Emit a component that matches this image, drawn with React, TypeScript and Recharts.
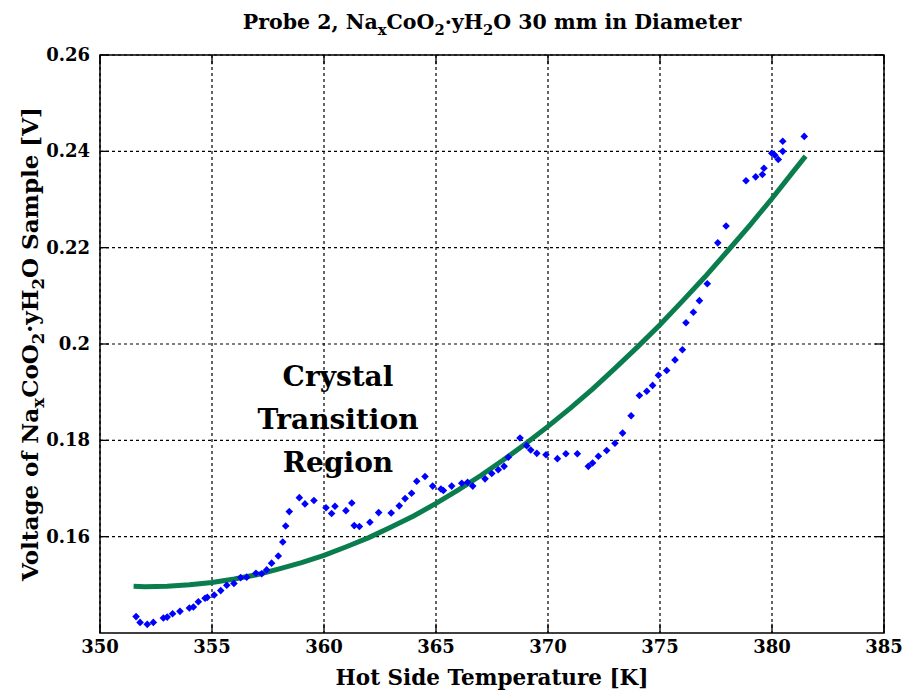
import React from "react";
import {
  ComposedChart,
  Line,
  Scatter,
  XAxis,
  YAxis,
  CartesianGrid,
  ReferenceArea,
  ReferenceLine,
} from "recharts";

const xTicks = [350, 355, 360, 365, 370, 375, 380, 385];
const yTicks = [0.16, 0.18, 0.2, 0.22, 0.24, 0.26];
const xDomain: [number, number] = [350, 385];
const yDomain: [number, number] = [0.14, 0.26];

const measuredTemp = [
  351.61, 351.79, 352.11, 352.38, 352.83, 353.0, 353.24, 353.57, 353.99, 354.17,
  354.39, 354.69, 354.79, 355.1, 355.39, 355.66, 355.98, 356.28, 356.55, 356.96,
  357.22, 357.44, 357.66, 357.96, 358.16, 358.29, 358.45, 358.9, 359.15, 359.55,
  360.09, 360.34, 360.49, 360.98, 361.24, 361.35, 361.58, 362.05, 362.44, 363.0,
  363.36, 363.62, 363.91, 364.14, 364.51, 364.85, 365.22, 365.33, 365.7, 366.15,
  366.41, 366.64, 367.19, 367.49, 367.78, 368.04, 368.23, 368.75, 369.05, 369.23,
  369.5, 369.91, 370.42, 370.8, 371.31, 371.8, 371.99, 372.25, 372.62, 372.99,
  373.33, 373.71, 374.08, 374.41, 374.67, 374.93, 375.3, 375.67, 376.0, 376.16,
  376.49, 376.76, 377.11, 377.58, 377.95, 378.84, 379.27, 379.57, 379.64, 379.99,
  380.13, 380.28, 380.48, 380.48, 381.44,
];
const measuredVolt = [
  0.1434, 0.1422, 0.1418, 0.1422, 0.1431, 0.1433, 0.144, 0.1445, 0.1452, 0.1454,
  0.1465, 0.1472, 0.1474, 0.1479, 0.1488, 0.1499, 0.1503, 0.1515, 0.1516, 0.1524,
  0.1523, 0.1531, 0.1545, 0.156, 0.1589, 0.1622, 0.1652, 0.1681, 0.1668, 0.1675,
  0.166, 0.1648, 0.1663, 0.1654, 0.167, 0.1623, 0.1621, 0.163, 0.165, 0.1649,
  0.1664, 0.1679, 0.169, 0.1715, 0.1725, 0.1705, 0.1699, 0.1696, 0.1705, 0.1711,
  0.1713, 0.1705, 0.172, 0.1731, 0.1739, 0.1746, 0.1765, 0.1805, 0.1789, 0.178,
  0.1773, 0.177, 0.1762, 0.1772, 0.1772, 0.1746, 0.1753, 0.1767, 0.1779, 0.1794,
  0.1815, 0.1851, 0.1893, 0.1902, 0.1914, 0.1935, 0.1945, 0.1967, 0.1988, 0.2044,
  0.2066, 0.209, 0.2125, 0.221, 0.2245, 0.2339, 0.2347, 0.2352, 0.2365, 0.2396,
  0.2392, 0.2383, 0.24, 0.2421, 0.2431,
];

const fitTemp = [
  351.5, 352, 353, 354, 355, 356, 357, 358, 359, 360, 361, 362, 363, 364, 365, 366,
  367, 368, 369, 370, 371, 372, 373, 374, 375, 376, 377, 378, 379, 380, 381, 381.5,
];
const fitVolt = [
  0.1497, 0.1496, 0.1497, 0.15, 0.1505, 0.1512, 0.1521, 0.1533, 0.1546, 0.1561,
  0.1579, 0.1598, 0.162, 0.1643, 0.1669, 0.1697, 0.1727, 0.1759, 0.1793, 0.1829,
  0.1867, 0.1907, 0.195, 0.1994, 0.204, 0.2089, 0.2139, 0.2192, 0.2246, 0.2302,
  0.2361, 0.239,
];

const scatterData = measuredTemp.map((t, i) => ({ t, v: measuredVolt[i] }));
const lineData = fitTemp.map((t, i) => ({ t, v: fitVolt[i] }));

// inward tick-mark length, in data units (≈9px)
const xTickLen = 0.4;
const yTickLen = 0.0019;

const FONT = "'DejaVu Serif', serif";

const Diamond = (props: any) => {
  const { cx, cy } = props;
  if (cx == null || cy == null) return null;
  const r = 3.8;
  return (
    <path
      d={`M${cx},${cy - r} L${cx + r},${cy} L${cx},${cy + r} L${cx - r},${cy} Z`}
      fill="#0000ff"
    />
  );
};

const BottomTick = (props: any) => {
  const { x, y, payload } = props;
  return (
    <text x={x} y={y + 20} textAnchor="middle" fontFamily={FONT} fontWeight="bold" fontSize={18} fill="#000">
      {payload.value}
    </text>
  );
};
const LeftTick = (props: any) => {
  const { x, y, payload } = props;
  return (
    <text x={x - 10} y={y + 6} textAnchor="end" fontFamily={FONT} fontWeight="bold" fontSize={18} fill="#000">
      {payload.value}
    </text>
  );
};

const Sub = ({ children }: { children: React.ReactNode }) => (
  <span style={{ fontSize: "0.72em", position: "relative", top: "0.38em" }}>{children}</span>
);

export default function App() {
  const tickStroke = { stroke: "#000", strokeWidth: 1.3 };
  return (
    <div style={{ position: "absolute", left: 0, top: 0, width: 907, height: 695, background: "#fff" }}>
      <ComposedChart width={907} height={695} margin={{ top: 55, right: 23, bottom: 0, left: 0 }}>
        <CartesianGrid
          stroke="#000"
          strokeDasharray="3 3"
          strokeWidth={1.2}
          horizontalValues={yTicks}
          verticalValues={xTicks}
        />
        <XAxis
          type="number"
          dataKey="t"
          domain={xDomain}
          ticks={xTicks}
          allowDataOverflow
          height={62}
          axisLine={false}
          tickLine={false}
          tickSize={0}
          tickMargin={0}
          tick={<BottomTick />}
          interval={0}
        />
        <YAxis
          type="number"
          dataKey="v"
          domain={yDomain}
          ticks={yTicks}
          allowDataOverflow
          width={100}
          axisLine={false}
          tickLine={false}
          tickSize={0}
          tickMargin={0}
          tick={<LeftTick />}
          interval={0}
        />
        {xTicks.map((t) => (
          <ReferenceLine
            key={`bx${t}`}
            segment={[{ x: t, y: yDomain[0] }, { x: t, y: yDomain[0] + yTickLen }]}
            {...tickStroke}
          />
        ))}
        {xTicks.map((t) => (
          <ReferenceLine
            key={`tx${t}`}
            segment={[{ x: t, y: yDomain[1] }, { x: t, y: yDomain[1] - yTickLen }]}
            {...tickStroke}
          />
        ))}
        {yTicks.map((v) => (
          <ReferenceLine
            key={`ly${v}`}
            segment={[{ x: xDomain[0], y: v }, { x: xDomain[0] + xTickLen, y: v }]}
            {...tickStroke}
          />
        ))}
        {yTicks.map((v) => (
          <ReferenceLine
            key={`ry${v}`}
            segment={[{ x: xDomain[1], y: v }, { x: xDomain[1] - xTickLen, y: v }]}
            {...tickStroke}
          />
        ))}
        <ReferenceArea
          x1={xDomain[0]}
          x2={xDomain[1]}
          y1={yDomain[0]}
          y2={yDomain[1]}
          fill="none"
          fillOpacity={0}
          stroke="#000"
          strokeWidth={1.5}
        />
        <Line
          data={lineData}
          dataKey="v"
          type="linear"
          stroke="#0a7d4e"
          strokeWidth={5}
          dot={false}
          isAnimationActive={false}
        />
        <Scatter data={scatterData} dataKey="v" shape={<Diamond />} isAnimationActive={false} />
      </ComposedChart>

      <div
        style={{
          position: "absolute",
          left: 0,
          width: 984,
          top: 9,
          textAlign: "center",
          fontFamily: FONT,
          fontWeight: "bold",
          fontSize: 20.5,
          lineHeight: "26px",
          color: "#000",
          whiteSpace: "nowrap",
        }}
      >
        Probe 2, Na<Sub>x</Sub>CoO<Sub>2</Sub>·yH<Sub>2</Sub>O 30 mm in Diameter
      </div>

      <div
        style={{
          position: "absolute",
          left: 100,
          width: 784,
          top: 665,
          textAlign: "center",
          fontFamily: FONT,
          fontWeight: "bold",
          fontSize: 21.5,
          lineHeight: "26px",
          color: "#000",
          whiteSpace: "nowrap",
        }}
      >
        Hot Side Temperature [K]
      </div>

      <div
        style={{
          position: "absolute",
          left: 30 - 300,
          top: 344 - 14,
          width: 600,
          height: 28,
          transform: "rotate(-90deg)",
          textAlign: "center",
          fontFamily: FONT,
          fontWeight: "bold",
          fontSize: 23,
          lineHeight: "28px",
          color: "#000",
          whiteSpace: "nowrap",
        }}
      >
        Voltage of Na<Sub>x</Sub>CoO<Sub>2</Sub>·yH<Sub>2</Sub>O Sample [V]
      </div>

      <div
        style={{
          position: "absolute",
          left: 338 - 120,
          width: 240,
          top: 355,
          textAlign: "center",
          fontFamily: FONT,
          fontWeight: "bold",
          fontSize: 28,
          lineHeight: "43px",
          color: "#000",
        }}
      >
        Crystal
        <br />
        Transition
        <br />
        Region
      </div>
    </div>
  );
}
